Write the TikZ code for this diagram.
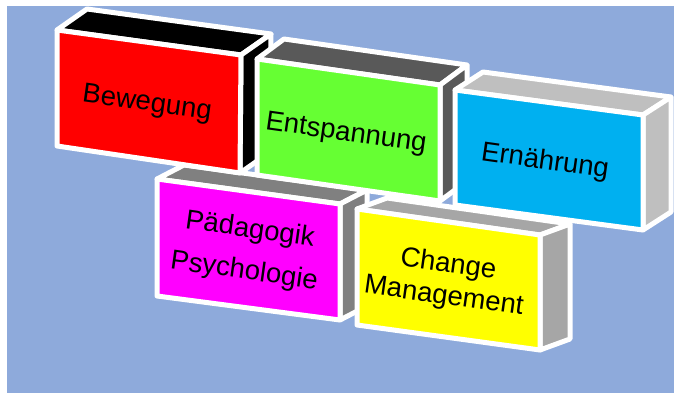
\documentclass[tikz,border=0pt]{standalone}
\usepackage{fontspec}
\setmainfont{Liberation Sans}
\usetikzlibrary{calc}
\definecolor{bgblue}{RGB}{142,170,219}
\definecolor{cred}{RGB}{255,0,0}
\definecolor{cgreen}{RGB}{102,255,51}
\definecolor{cblue}{RGB}{0,176,240}
\definecolor{cmag}{RGB}{255,0,255}
\definecolor{cyel}{RGB}{255,255,0}
\definecolor{sblack}{RGB}{0,0,0}
\definecolor{sdgray}{RGB}{89,89,89}
\definecolor{slgray}{RGB}{191,191,191}
\definecolor{smgray}{RGB}{128,128,128}
\definecolor{sygray}{RGB}{166,166,166}
\newcommand{\drawbox}[8]{%
  \coordinate (#1-tl) at #2;
  \coordinate (#1-tr) at #3;
  \coordinate (#1-br) at #4;
  \coordinate (#1-bl) at #5;
  \filldraw[face,fill=#8] (#1-tl) -- (#1-tr) -- ($(#1-tr)+#6$) -- ($(#1-tl)+#6$) -- cycle;
  \filldraw[face,fill=#8] (#1-tr) -- (#1-br) -- ($(#1-br)+#6$) -- ($(#1-tr)+#6$) -- cycle;
  \filldraw[face,fill=#7] (#1-tl) -- (#1-tr) -- (#1-br) -- (#1-bl) -- cycle;
}
\begin{document}
\begin{tikzpicture}[x=1pt,y=-1pt,
  face/.style={draw=white,line width=5pt,line join=round},
  lbl/.style={font=\fontsize{27.5}{32}\selectfont,rotate=-8,align=center,text=black,inner sep=0pt}]
\useasboundingbox (0,0) rectangle (674,393);
\fill[bgblue] (7,6) rectangle (674,393);
% lower row
\drawbox{mag}{(157,179)}{(340,204)}{(340,320)}{(157,296)}{(27,-14)}{cmag}{smgray}
\drawbox{yel}{(357,209)}{(540,235)}{(540,350)}{(357,325)}{(30,-11)}{cyel}{sygray}
% upper row
\drawbox{red}{(57,30)}{(241,55)}{(240,173)}{(57,146)}{(30,-21)}{cred}{sblack}
\drawbox{grn}{(257,59)}{(440,85)}{(440,201)}{(257,175)}{(27,-20)}{cgreen}{sdgray}
\drawbox{blu}{(455,90)}{(643,115)}{(643,230)}{(455,205)}{(28,-18)}{cblue}{slgray}
% labels
\node[lbl] (t1) at (147,104) {Bewegung};
\node[lbl] (t2) at (346,134) {Entspannung};
\node[lbl] (t3) at (545,162) {Ernährung};
\node[lbl,font=\fontsize{27.5}{42}\selectfont] (t4) at (247,251) {Pädagogik\\Psychologie};
\node[lbl] (t5) at (446,281) {Change\\Management};
\end{tikzpicture}
\end{document}
